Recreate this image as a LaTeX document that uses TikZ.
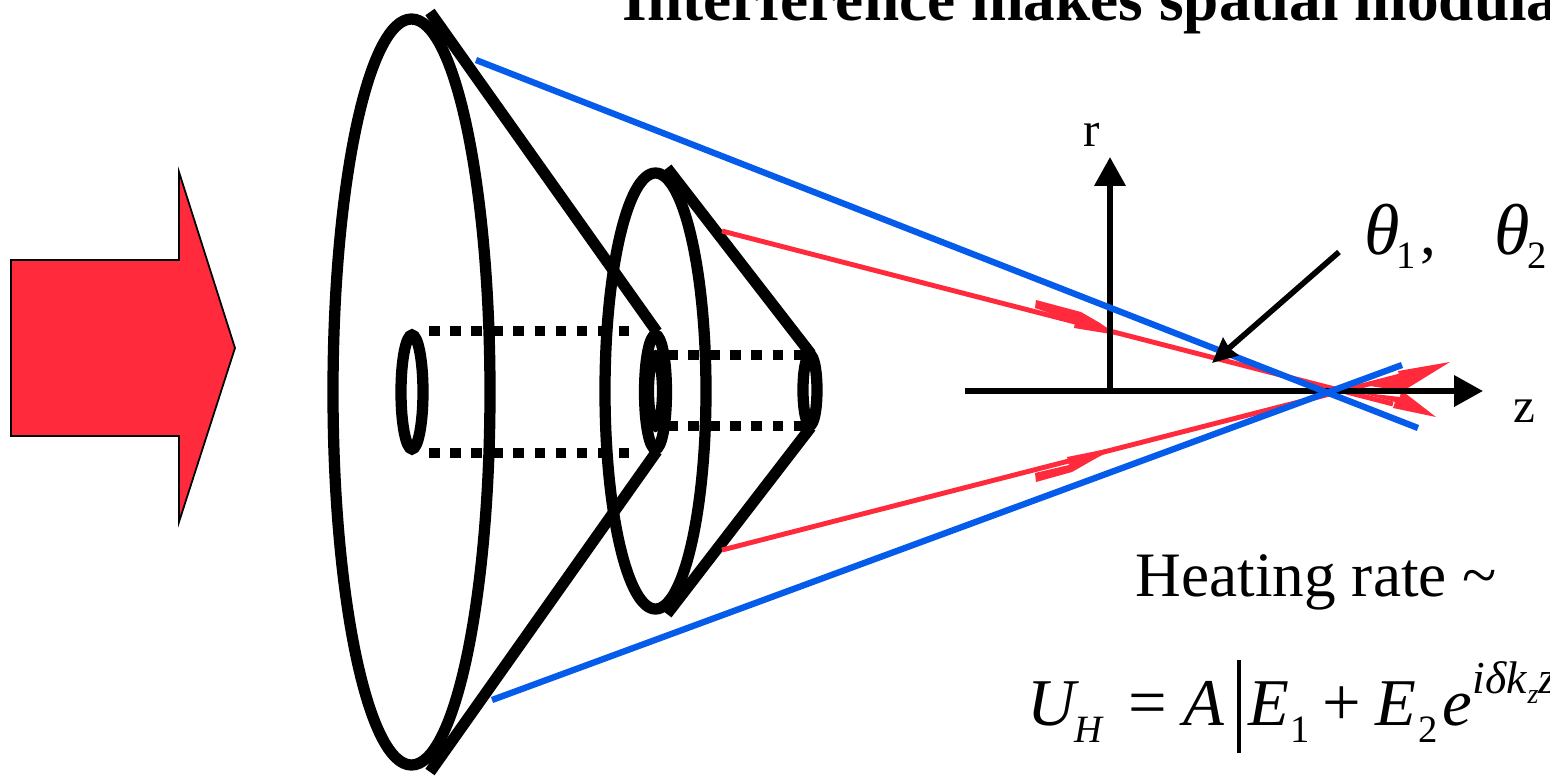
\documentclass[tikz,border=0pt]{standalone}
\usepackage{fontspec}
\setmainfont{Liberation Serif}
\usetikzlibrary{arrows.meta,positioning}
\definecolor{rayred}{RGB}{255,43,60}
\definecolor{rayblue}{RGB}{5,92,235}
\begin{document}
\begin{tikzpicture}[x=0.01cm,y=-0.01cm,line join=miter,
  ring/.style={draw=black,line width=3.2pt},
  dots/.style={draw=black,line width=3pt,dash pattern=on 3pt off 3pt},
  blueray/.style={draw=rayblue,line width=1.8pt},
  redray/.style={draw=rayred,line width=1.4pt},
  tipfill/.style={fill=rayred},
  axis/.style={draw=black,line width=1.6pt,-{Triangle[length=8.2pt,width=8.6pt]}},
  txt/.style={anchor=base west,inner sep=0pt,font=\fontsize{18}{20}\selectfont},
  ital/.style={anchor=base west,inner sep=0pt,font=\fontsize{19}{21}\selectfont\itshape},
  symb/.style={anchor=base west,inner sep=0pt,font=\fontsize{19.5}{21}\selectfont},
  theta/.style={anchor=base west,inner sep=0pt,font=\fontsize{20.5}{22}\selectfont\itshape},
  smallnum/.style={anchor=base west,inner sep=0pt,font=\fontsize{11}{12}\selectfont}]
\path[use as bounding box,clip] (0,0) rectangle (1550,775);
\fill[rayred,draw=black,line width=0.5pt] (11,260) -- (179,260) -- (179,172) -- (235,348) -- (179,522) -- (179,436) -- (11,436) -- cycle;
\draw[ring] (411.5,392) ellipse [x radius=78.5,y radius=373];
\draw[ring] (412,392) ellipse [x radius=11,y radius=57];
\draw[ring] (655.5,391) ellipse [x radius=50.5,y radius=218];
\draw[ring] (655.5,392) ellipse [x radius=11,y radius=57];
\draw[ring] (655.5,391) ellipse [x radius=7,y radius=35];
\draw[ring] (810,390) ellipse [x radius=7,y radius=35];
\draw[ring] (430,12) -- (657,332);
\draw[ring] (430,772) -- (657,451);
\draw[ring] (667,168) -- (811,354);
\draw[ring] (667,614) -- (811,427);
\draw[dots] (429,331) -- (632,331);
\draw[dots] (429,453) -- (632,453);
\draw[dots] (667,355) -- (805,355);
\draw[dots] (667,426) -- (805,426);
\draw[redray] (722,231) -- (1393,404);
\draw[redray] (722,550) -- (1400,376);
\fill[tipfill] (1036,300) -- (1081,312) -- (1100,323) -- (1117,335) -- (1074,328) -- (1075,322) -- (1035,308) -- cycle;
\fill[tipfill] (1117,447) -- (1067,457) -- (1069,465) -- (1035,473) -- (1036,482) -- (1072,472) -- (1093,460) -- cycle;
\fill[tipfill] (1450,362) -- (1398,371) -- (1400,378) -- (1370,386) -- (1403,391) -- cycle;
\fill[tipfill] (1436,417) -- (1401,390) -- (1400,397) -- (1357,392) -- (1395,402) -- (1393,408) -- cycle;
\draw[axis] (965,391) -- (1483,391);
\draw[axis] (1110,391) -- (1110,157);
\draw[blueray] (476,60) -- (1418,428);
\draw[blueray] (492,700) -- (1402,365);
\draw[draw=black,line width=1.6pt,-{Stealth[length=7pt,width=6.5pt,inset=0.5pt]}] (1339,252) -- (1212,363);
\draw[draw=black,line width=0.9pt] (1239,660) -- (1239,753);
\node[txt] (title) at (622,20) {\textbf{Interference makes spatial modulation}};
\node[txt,font=\fontsize{14}{16}\selectfont] (rlabel) at (1083,146) {r};
\node[txt,font=\fontsize{14}{16}\selectfont] (zlabel) at (1513,422) {z};
\node[theta] (thetaone) at (1364,254) {θ};
\node[smallnum] (thetaonesub) at (1396,268) {1};
\node[txt] (comma) at (1420,254) {,};
\node[theta] (thetatwo) at (1494,254) {θ};
\node[smallnum] (thetatwosub) at (1527,268) {2};
\node[txt] (heating) at (1135,596) {Heating rate \char"007E};
\node[ital] (eqU) at (1027,725) {U};
\node[smallnum,font=\fontsize{11}{12}\selectfont\itshape] (eqH) at (1074,742) {H};
\node[symb] (eqequals) at (1128,725) {=};
\node[ital] (eqA) at (1183,725) {A};
\node[ital] (eqEone) at (1248,725) {E};
\node[smallnum] (eqone) at (1290,742) {1};
\node[symb] (eqplus) at (1322,725) {+};
\node[ital] (eqEtwo) at (1375,725) {E};
\node[smallnum] (eqtwo) at (1418,742) {2};
\node[ital] (eqe) at (1442,725) {e};
\node[smallnum,font=\fontsize{13}{14}\selectfont\itshape] (eqsup) at (1472,693) {iδk};
\node[smallnum,font=\fontsize{8}{9}\selectfont\itshape] (eqsubz) at (1527,703) {z};
\node[smallnum,font=\fontsize{13}{14}\selectfont\itshape] (eqz) at (1538,693) {z};
\end{tikzpicture}
\end{document}
